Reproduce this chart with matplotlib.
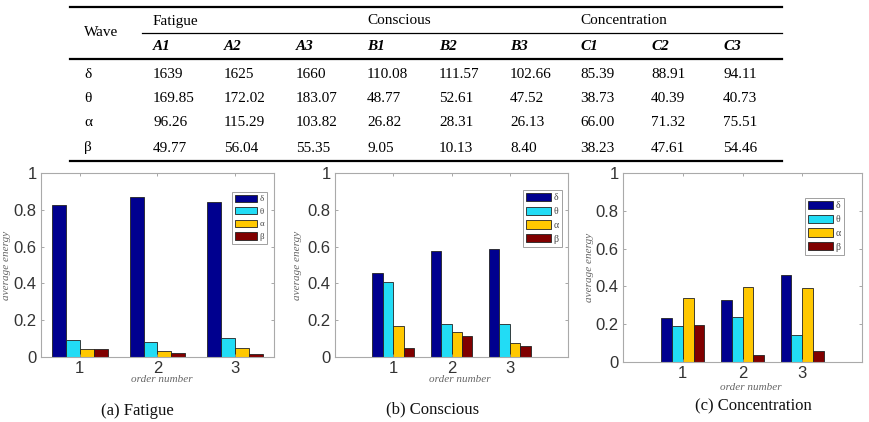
import numpy as np
import matplotlib
matplotlib.use("Agg")
import matplotlib.pyplot as plt
from matplotlib.lines import Line2D

# ---- table data ----
waves = ["δ", "θ", "α", "β"]
groups = ["Fatigue", "Conscious", "Concentration"]
trials = ["A1", "A2", "A3", "B1", "B2", "B3", "C1", "C2", "C3"]
delta_row = ["1639", "1625", "1660", "110.08", "111.57", "102.66", "85.39", "88.91", "94.11"]
theta_row = ["169.85", "172.02", "183.07", "48.77", "52.61", "47.52", "38.73", "40.39", "40.73"]
alpha_row = ["96.26", "115.29", "103.82", "26.82", "28.31", "26.13", "66.00", "71.32", "75.51"]
beta_row = ["49.77", "56.04", "55.35", "9.05", "10.13", "8.40", "38.23", "47.61", "54.46"]

# ---- bar data: rows = delta, theta, alpha, beta; cols = order number 1..3 ----
order = [1, 2, 3]
fatigue_energy = [[0.824, 0.872, 0.845],
                  [0.091, 0.082, 0.105],
                  [0.042, 0.033, 0.051],
                  [0.042, 0.024, 0.018]]
conscious_energy = [[0.459, 0.577, 0.586],
                    [0.405, 0.178, 0.180],
                    [0.168, 0.135, 0.075],
                    [0.050, 0.113, 0.060]]
concentration_energy = [[0.234, 0.327, 0.458],
                        [0.190, 0.239, 0.145],
                        [0.340, 0.395, 0.390],
                        [0.195, 0.039, 0.057]]
captions = ["(a) Fatigue", "(b) Conscious", "(c) Concentration"]

COLORS = ["#00008f", "#22dcf5", "#ffc800", "#800000"]
W, H = 869, 422
SERIF = ["Liberation Serif", "DejaVu Serif"]
SANS = ["Liberation Sans", "DejaVu Sans"]

fig = plt.figure(figsize=(W / 100, H / 100), dpi=100)

# full-figure axes in pixel coords for table + captions
tab = fig.add_axes([0, 0, 1, 1])
tab.set_xlim(0, W); tab.set_ylim(H, 0); tab.axis("off")

def rule(y, x0, x1, lw):
    tab.add_line(Line2D([x0, x1], [y, y], color="black", lw=lw))

rule(6.5, 70, 782, 1.6)
rule(33, 142, 782, 0.9)
rule(59, 70, 782, 1.6)
rule(161, 70, 782, 1.6)

col_x = [153, 224, 296, 367, 439, 510, 580, 651, 723]
tfs = 11
tab.text(84, 33, "Wave", fontsize=tfs, family=SERIF, va="center")
for g, x in zip(groups, col_x[::3]):
    tab.text(x, 21, g, fontsize=tfs, family=SERIF, va="center")
for t, x in zip(trials, col_x):
    tab.text(x, 47, t, fontsize=tfs, family=SERIF, va="center",
             style="italic", weight="bold")
for y, w, row in zip([74, 98, 123, 148], waves,
                     [delta_row, theta_row, alpha_row, beta_row]):
    tab.text(84, y, w, fontsize=tfs, family=SERIF, va="center")
    for v, x in zip(row, col_x):
        tab.text(x, y, v, fontsize=tfs, family=SERIF, va="center")

# ---- bar charts ----
panels = [
    dict(rect=[41, 173, 274, 357], xlim=(0.5, 3.5), data=fatigue_energy,
         leg=(232, 192), lfs=6.3, ylab_x=7, xlab_y=379, cap=(137, 411)),
    dict(rect=[335, 173, 568, 357], xlim=(0, 4), data=conscious_energy,
         leg=(523, 190), lfs=7, ylab_x=297, xlab_y=380, cap=(433, 409)),
    dict(rect=[623, 173, 862, 362], xlim=(0, 4), data=concentration_energy,
         leg=(805, 198), lfs=7, ylab_x=590, xlab_y=388, cap=(753, 406)),
]

bw = 0.18
offsets = [-1.5 * bw, -0.5 * bw, 0.5 * bw, 1.5 * bw]
x = np.array(order, dtype=float)
for p, cap in zip(panels, captions):
    x0, y0, x1, y1 = p["rect"]
    ax = fig.add_axes([x0 / W, 1 - y1 / H, (x1 - x0) / W, (y1 - y0) / H])
    bars = []
    for vals, off, c in zip(p["data"], offsets, COLORS):
        bars.append(ax.bar(x + off, vals, bw, color=c, edgecolor="#222222", lw=0.6))
    ax.set_xlim(*p["xlim"]); ax.set_ylim(0, 1)
    ax.set_xticks(order)
    ax.set_yticks([0, 0.2, 0.4, 0.6, 0.8, 1])
    ax.set_yticklabels(["0", "0.2", "0.4", "0.6", "0.8", "1"])
    ax.tick_params(direction="in", length=2.5, width=0.6, top=True, right=True,
                   labelsize=12, labelcolor="#333333", color="#999999", pad=3)
    for lab in ax.get_xticklabels() + ax.get_yticklabels():
        lab.set_family(SANS)
    for s in ax.spines.values():
        s.set_color("#aaaaaa"); s.set_linewidth(0.8)
    lg = ax.legend(bars, waves, loc="upper left",
                   bbox_to_anchor=(p["leg"][0] / W, 1 - p["leg"][1] / H),
                   bbox_transform=fig.transFigure, borderaxespad=0,
                   prop=dict(family=SERIF, size=p["lfs"]),
                   frameon=True, fancybox=False, handlelength=2.6, handleheight=0.9,
                   handletextpad=0.25, labelspacing=0.45, borderpad=0.3)
    lg.get_frame().set_edgecolor("#888888"); lg.get_frame().set_linewidth(0.7)
    for t in lg.get_texts():
        t.set_color("#444444")
    tab.text(p["ylab_x"], (y0 + y1) / 2, "average energy", rotation=90,
             fontsize=8, family=SERIF, style="italic", color="#666666",
             ha="center", va="center")
    tab.text((x0 + x1) / 2 + (4 if p["xlim"][0] == 0.5 else 8), p["xlab_y"],
             "order number", fontsize=8, family=SERIF, style="italic",
             color="#666666", ha="center", va="center")
    tab.text(p["cap"][0], p["cap"][1], cap, fontsize=12, family=SERIF,
             ha="center", va="center", color="#111111")

tab.set_zorder(0)
fig.savefig("out.png", dpi=100)
